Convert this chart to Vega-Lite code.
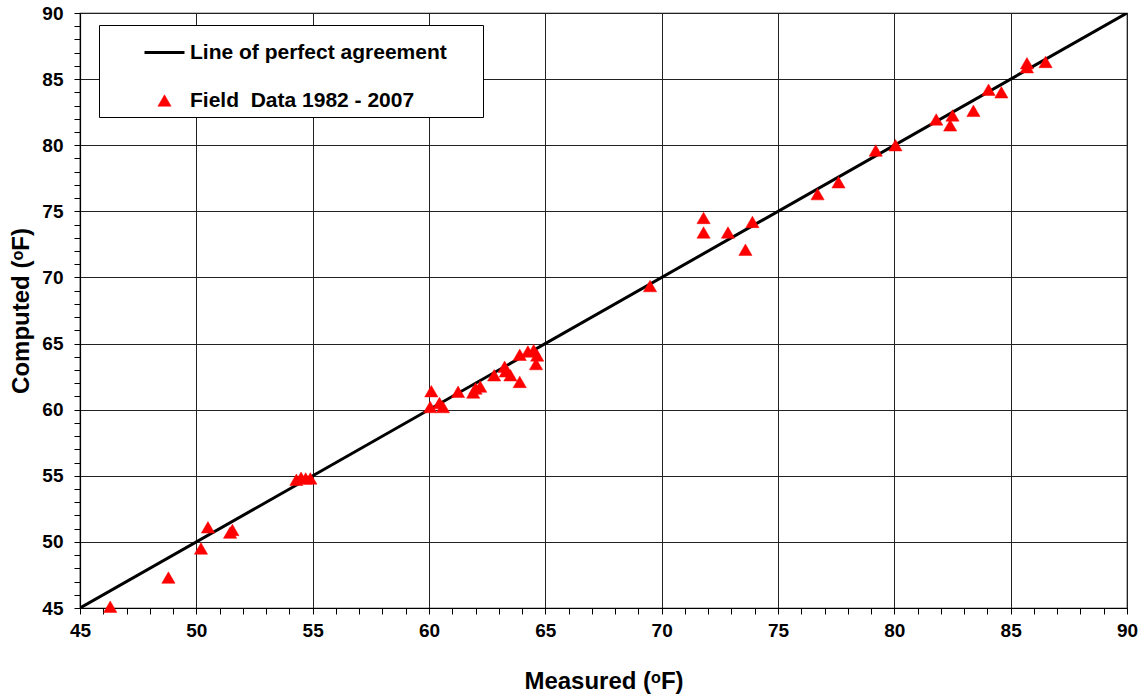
{
  "$schema": "https://vega.github.io/schema/vega-lite/v6.json",
  "width": 1047,
  "height": 595,
  "autosize": "none",
  "padding": {"left": 80, "top": 13, "right": 19, "bottom": 92},
  "background": "white",
  "config": {
    "view": {"stroke": "black", "strokeWidth": 1.2},
    "font": "Liberation Sans",
    "legend": {
      "orient": "none",
      "legendX": 19,
      "legendY": 12,
      "padding": 6,
      "rowPadding": 26,
      "symbolOffset": 38,
      "labelOffset": 4,
      "labelLimit": 600,
      "labelFont": "Liberation Sans",
      "labelFontSize": 21,
      "labelFontWeight": "bold",
      "labelColor": "black",
      "strokeColor": "black",
      "fillColor": "white",
      "cornerRadius": 0,
      "titleOrient": "right",
      "titlePadding": 30,
      "titleFontSize": 1
    }
  },
  "datasets": {
    "field": [
      {"measured": 46.3, "computed": 45.1, "series": "Field\u00a0 Data 1982 - 2007"},
      {"measured": 48.8, "computed": 47.3, "series": "Field\u00a0 Data 1982 - 2007"},
      {"measured": 50.2, "computed": 49.5, "series": "Field\u00a0 Data 1982 - 2007"},
      {"measured": 50.5, "computed": 51.1, "series": "Field\u00a0 Data 1982 - 2007"},
      {"measured": 51.45, "computed": 50.7, "series": "Field\u00a0 Data 1982 - 2007"},
      {"measured": 51.55, "computed": 50.9, "series": "Field\u00a0 Data 1982 - 2007"},
      {"measured": 54.3, "computed": 54.7, "series": "Field\u00a0 Data 1982 - 2007"},
      {"measured": 54.5, "computed": 54.85, "series": "Field\u00a0 Data 1982 - 2007"},
      {"measured": 54.7, "computed": 54.8, "series": "Field\u00a0 Data 1982 - 2007"},
      {"measured": 54.9, "computed": 54.8, "series": "Field\u00a0 Data 1982 - 2007"},
      {"measured": 60.05, "computed": 60.2, "series": "Field\u00a0 Data 1982 - 2007"},
      {"measured": 60.1, "computed": 61.4, "series": "Field\u00a0 Data 1982 - 2007"},
      {"measured": 60.45, "computed": 60.5, "series": "Field\u00a0 Data 1982 - 2007"},
      {"measured": 60.6, "computed": 60.2, "series": "Field\u00a0 Data 1982 - 2007"},
      {"measured": 61.25, "computed": 61.35, "series": "Field\u00a0 Data 1982 - 2007"},
      {"measured": 61.9, "computed": 61.3, "series": "Field\u00a0 Data 1982 - 2007"},
      {"measured": 62.0, "computed": 61.6, "series": "Field\u00a0 Data 1982 - 2007"},
      {"measured": 62.2, "computed": 61.75, "series": "Field\u00a0 Data 1982 - 2007"},
      {"measured": 62.8, "computed": 62.6, "series": "Field\u00a0 Data 1982 - 2007"},
      {"measured": 63.25, "computed": 63.25, "series": "Field\u00a0 Data 1982 - 2007"},
      {"measured": 63.3, "computed": 62.9, "series": "Field\u00a0 Data 1982 - 2007"},
      {"measured": 63.5, "computed": 62.6, "series": "Field\u00a0 Data 1982 - 2007"},
      {"measured": 63.9, "computed": 62.1, "series": "Field\u00a0 Data 1982 - 2007"},
      {"measured": 63.9, "computed": 64.15, "series": "Field\u00a0 Data 1982 - 2007"},
      {"measured": 64.25, "computed": 64.4, "series": "Field\u00a0 Data 1982 - 2007"},
      {"measured": 64.5, "computed": 64.5, "series": "Field\u00a0 Data 1982 - 2007"},
      {"measured": 64.65, "computed": 64.1, "series": "Field\u00a0 Data 1982 - 2007"},
      {"measured": 64.6, "computed": 63.45, "series": "Field\u00a0 Data 1982 - 2007"},
      {"measured": 69.5, "computed": 69.35, "series": "Field\u00a0 Data 1982 - 2007"},
      {"measured": 71.8, "computed": 74.5, "series": "Field\u00a0 Data 1982 - 2007"},
      {"measured": 71.8, "computed": 73.4, "series": "Field\u00a0 Data 1982 - 2007"},
      {"measured": 72.85, "computed": 73.4, "series": "Field\u00a0 Data 1982 - 2007"},
      {"measured": 73.6, "computed": 72.1, "series": "Field\u00a0 Data 1982 - 2007"},
      {"measured": 73.9, "computed": 74.2, "series": "Field\u00a0 Data 1982 - 2007"},
      {"measured": 76.7, "computed": 76.3, "series": "Field\u00a0 Data 1982 - 2007"},
      {"measured": 77.6, "computed": 77.2, "series": "Field\u00a0 Data 1982 - 2007"},
      {"measured": 79.2, "computed": 79.6, "series": "Field\u00a0 Data 1982 - 2007"},
      {"measured": 80.05, "computed": 80.0, "series": "Field\u00a0 Data 1982 - 2007"},
      {"measured": 81.8, "computed": 81.95, "series": "Field\u00a0 Data 1982 - 2007"},
      {"measured": 82.4, "computed": 81.5, "series": "Field\u00a0 Data 1982 - 2007"},
      {"measured": 82.5, "computed": 82.25, "series": "Field\u00a0 Data 1982 - 2007"},
      {"measured": 83.4, "computed": 82.6, "series": "Field\u00a0 Data 1982 - 2007"},
      {"measured": 84.05, "computed": 84.2, "series": "Field\u00a0 Data 1982 - 2007"},
      {"measured": 84.6, "computed": 84.0, "series": "Field\u00a0 Data 1982 - 2007"},
      {"measured": 85.7, "computed": 86.2, "series": "Field\u00a0 Data 1982 - 2007"},
      {"measured": 85.7, "computed": 85.9, "series": "Field\u00a0 Data 1982 - 2007"},
      {"measured": 86.5, "computed": 86.3, "series": "Field\u00a0 Data 1982 - 2007"}
    ],
    "perfect": [
      {"measured": 45, "computed": 45},
      {"measured": 90, "computed": 90}
    ]
  },
  "encoding": {
    "x": {
      "field": "measured",
      "type": "quantitative",
      "scale": {"domain": [45, 90], "nice": false, "zero": false},
      "axis": {
        "title": "Measured (ᵒF)",
        "titleFont": "Liberation Sans",
        "titleFontSize": 24,
        "titleFontWeight": "bold",
        "titleColor": "black",
        "titlePadding": 29,
        "values": [45,46,47,48,49,50,51,52,53,54,55,56,57,58,59,60,61,62,63,64,65,66,67,68,69,70,71,72,73,74,75,76,77,78,79,80,81,82,83,84,85,86,87,88,89,90],
        "labelExpr": "datum.value % 5 === 0 ? datum.label : ''",
        "labelOverlap": false,
        "labelFont": "Liberation Sans",
        "labelFontSize": 19,
        "labelFontWeight": "bold",
        "labelColor": "black",
        "labelPadding": 7,
        "labelFlush": false,
        "ticks": true,
        "tickSize": 6,
        "tickWidth": 1,
        "tickColor": "black",
        "tickOpacity": 1,
        "encode": {"ticks": {"update": {"y2": {"value": -6}}}},
        "domainColor": "black",
        "domainWidth": 1.2,
        "grid": true,
        "gridColor": "#222222",
        "gridWidth": 1,
        "gridOpacity": {"condition": {"test": "datum.value % 5 === 0", "value": 1}, "value": 0}
      }
    },
    "y": {
      "field": "computed",
      "type": "quantitative",
      "scale": {"domain": [45, 90], "nice": false, "zero": false},
      "axis": {
        "title": "Computed (ᵒF)",
        "titleFont": "Liberation Sans",
        "titleFontSize": 24,
        "titleFontWeight": "bold",
        "titleColor": "black",
        "titlePadding": 8,
        "values": [45,46,47,48,49,50,51,52,53,54,55,56,57,58,59,60,61,62,63,64,65,66,67,68,69,70,71,72,73,74,75,76,77,78,79,80,81,82,83,84,85,86,87,88,89,90],
        "labelExpr": "datum.value % 5 === 0 ? datum.label : ''",
        "labelOverlap": false,
        "labelFont": "Liberation Sans",
        "labelFontSize": 19,
        "labelFontWeight": "bold",
        "labelColor": "black",
        "labelPadding": 11,
        "labelFlush": false,
        "ticks": true,
        "tickSize": 6,
        "tickWidth": 1,
        "tickColor": "black",
        "tickOpacity": 1,
        "encode": {"ticks": {"update": {"x2": {"value": 6}}}},
        "domainColor": "black",
        "domainWidth": 1.2,
        "grid": true,
        "gridColor": "#222222",
        "gridWidth": 1,
        "gridOpacity": {"condition": {"test": "datum.value % 5 === 0", "value": 1}, "value": 0}
      }
    }
  },
  "layer": [
    {
      "data": {"name": "perfect"},
      "mark": {"type": "line", "color": "black", "strokeWidth": 3, "clip": true},
      "encoding": {}
    },
    {
      "data": {"name": "field"},
      "mark": {"type": "point", "filled": true, "opacity": 1, "clip": false},
      "encoding": {
        "fill": {
          "field": "series",
          "type": "nominal",
          "scale": {"domain": ["Line of perfect agreement", "Field\u00a0 Data 1982 - 2007"], "range": ["black", "red"]},
          "legend": {"title": "\u00a0", "orient": "none", "legendX": 19, "legendY": 12}
        },
        "stroke": {
          "field": "series",
          "type": "nominal",
          "scale": {"domain": ["Line of perfect agreement", "Field\u00a0 Data 1982 - 2007"], "range": ["black", "red"]},
          "legend": {"title": "\u00a0", "orient": "none", "legendX": 19, "legendY": 12}
        },
        "shape": {
          "field": "series",
          "type": "nominal",
          "scale": {"domain": ["Line of perfect agreement", "Field\u00a0 Data 1982 - 2007"], "range": ["stroke", "triangle-up"]},
          "legend": {"title": "\u00a0", "orient": "none", "legendX": 19, "legendY": 12}
        },
        "size": {
          "field": "series",
          "type": "nominal",
          "scale": {"domain": ["Line of perfect agreement", "Field\u00a0 Data 1982 - 2007"], "range": [1600, 175]},
          "legend": {"title": "\u00a0", "orient": "none", "legendX": 19, "legendY": 12}
        },
        "strokeWidth": {
          "field": "series",
          "type": "nominal",
          "scale": {"domain": ["Line of perfect agreement", "Field\u00a0 Data 1982 - 2007"], "range": [3, 0.5]},
          "legend": {"title": "\u00a0", "orient": "none", "legendX": 19, "legendY": 12}
        }
      }
    }
  ]
}
